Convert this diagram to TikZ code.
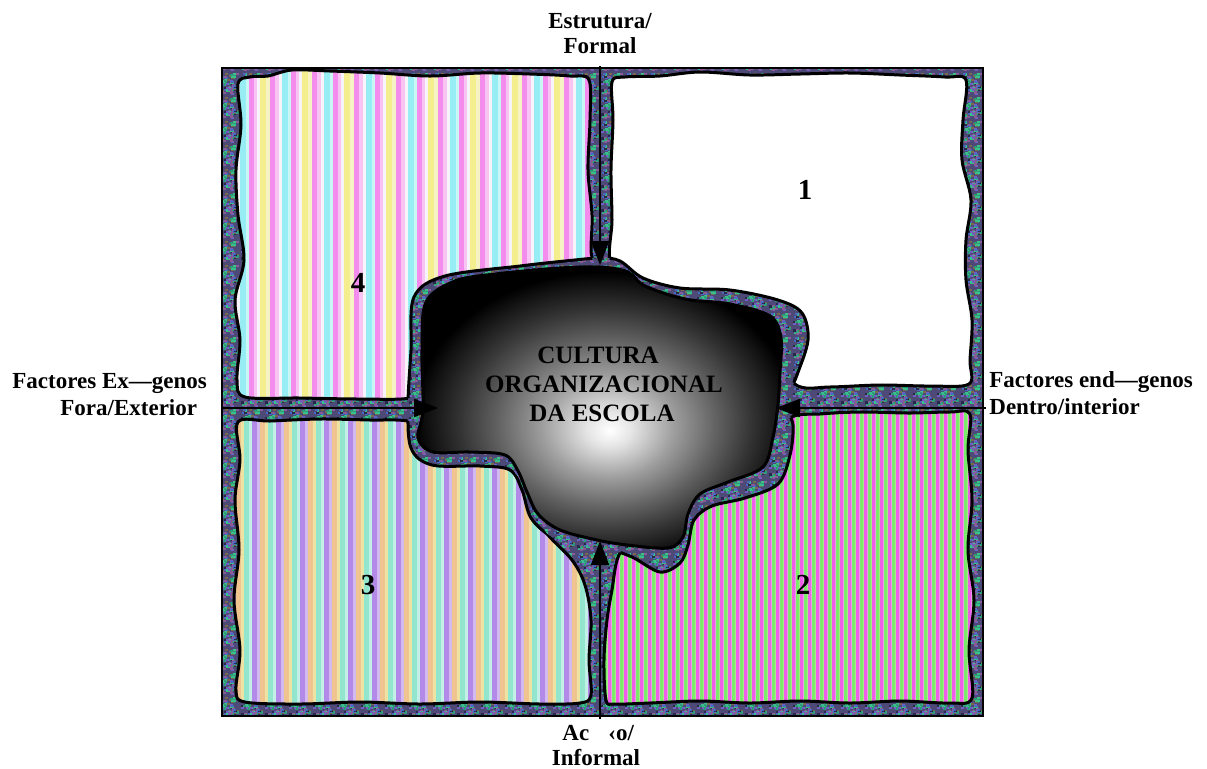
\documentclass[tikz,border=0pt]{standalone}
\usepackage{fontspec}
\setmainfont{Liberation Serif}
\usetikzlibrary{arrows.meta,patterns}

\definecolor{gbase}{HTML}{4E4A78}
\definecolor{gr1}{HTML}{2E9A7A}
\definecolor{gr2}{HTML}{7060C0}
\definecolor{gr3}{HTML}{28284A}
\definecolor{gr4}{HTML}{7A6A4A}
\definecolor{gr5}{HTML}{3CC08A}
\definecolor{gr6}{HTML}{4A6AC0}
\definecolor{gr7}{HTML}{8A5A9A}

\definecolor{sApk}{HTML}{F48CEE}
\definecolor{sApl}{HTML}{F8C4F4}
\definecolor{sAwh}{HTML}{F6F4F8}
\definecolor{sAcy}{HTML}{96EEF4}
\definecolor{sAcl}{HTML}{CAF6F6}
\definecolor{sAye}{HTML}{F4EE8E}
\definecolor{sAyl}{HTML}{F6F2C4}

\definecolor{sCpu}{HTML}{B48AE8}
\definecolor{sClv}{HTML}{D2BAF0}
\definecolor{sCpe}{HTML}{F0C48E}
\definecolor{sCly}{HTML}{ECE2A4}
\definecolor{sCmi}{HTML}{92E6CE}
\definecolor{sClc}{HTML}{C2F0E6}

\definecolor{sBmg}{HTML}{EE5EE8}
\definecolor{sBml}{HTML}{F096EE}
\definecolor{sBgr}{HTML}{7AEE6A}
\definecolor{sBgl}{HTML}{AEE88E}

\pgfdeclarepatterninherentlycolored{granite}{\pgfpoint{-0.4pt}{-0.4pt}}{\pgfpoint{12.4pt}{12.4pt}}{\pgfpoint{12pt}{12pt}}{%
  \pgfsetfillcolor{gbase}%
  \pgfpathrectangle{\pgfpoint{-0.4pt}{-0.4pt}}{\pgfpoint{12.8pt}{12.8pt}}\pgfusepath{fill}%
  \pgfmathsetseed{11}%
  \foreach \i in {1,...,80}{%
    \pgfmathrandominteger{\k}{1}{7}%
    \pgfmathsetmacro{\px}{0.3+rnd*10.2}%
    \pgfmathsetmacro{\py}{0.3+rnd*10.5}%
    \pgfsetfillcolor{gr\k}%
    \pgfpathrectangle{\pgfpoint{\px pt}{\py pt}}{\pgfpoint{1.4pt}{1.1pt}}\pgfusepath{fill}%
  }%
}

\pgfdeclareradialshading{cshade}{\pgfpoint{1.4bp}{-4bp}}{%
  color(0bp)=(white); color(3bp)=(white!90!black); color(9bp)=(white!62!black);
  color(15bp)=(white!38!black); color(20bp)=(white!20!black);
  color(24bp)=(white!7!black); color(26bp)=(black); color(50bp)=(black)}

\newcommand\pfour{plot[smooth cycle,tension=0.55] coordinates {
 (238,84) (250,77) (268,76) (292,70) (330,71) (380,73) (430,76) (480,73) (530,74)
 (570,76) (589,80) (590,120) (588,170) (592,215) (591,250) (592,285) (540,320)
 (470,350) (425,385) (410,398) (360,399) (300,398) (245,397) (237,380) (240,340)
 (235,300) (244,260) (238,215) (236,170) (241,125)}}
\newcommand\pone{plot[smooth cycle,tension=0.55] coordinates {
 (612,82) (625,77) (660,76) (700,72) (750,75) (800,74) (850,73) (900,75) (945,77)
 (966,80) (963,120) (962,160) (971,200) (966,240) (966,280) (972,320) (970,360)
 (969,384) (930,386) (880,385) (830,387) (798,386) (770,360) (700,330) (640,300)
 (611,265) (612,220) (611,170) (613,120)}}
\newcommand\pthree{plot[smooth cycle,tension=0.55] coordinates {
 (238,422) (270,421) (320,419) (370,420) (408,421) (440,432) (490,448) (520,480)
 (535,515) (548,535) (572,560) (585,585) (591,620) (589,660) (591,695) (580,703)
 (540,704) (480,702) (420,704) (360,702) (300,704) (245,702) (236,690) (240,650)
 (234,600) (239,550) (235,500) (240,460)}}
\newcommand\ptwo{plot[smooth cycle,tension=0.55] coordinates {
 (606,700) (604,660) (607,620) (612,590) (619,555) (640,535) (700,500) (760,450)
 (790,418) (820,414) (860,412) (910,413) (950,412) (970,414) (968,450) (972,500)
 (968,550) (974,600) (969,650) (972,698) (950,703) (900,701) (850,703) (800,701)
 (750,703) (700,701) (650,703) (615,704)}}
\newcommand\pband{plot[smooth cycle,tension=0.55] coordinates {
 (600,258) (620,261) (643,278) (680,288) (730,290) (778,300) (802,313) (808,340)
 (797,375) (786,403) (793,425) (790,455) (778,484) (745,498) (712,506) (694,520)
 (688,545) (680,563) (660,572) (632,557) (605,548) (578,545) (552,537) (531,518)
 (522,490) (510,470) (480,466) (432,465) (411,448) (408,405) (411,350) (414,297)
 (445,276) (520,266) (565,261)}}
\newcommand\pdark{plot[smooth cycle,tension=0.55] coordinates {
 (600,267) (628,272) (645,286) (685,299) (730,304) (770,316) (781,338) (780,372)
 (778,405) (773,437) (763,467) (728,482) (700,494) (688,514) (683,537) (668,548)
 (627,545) (597,540) (560,530) (538,514) (527,492) (518,471) (505,455) (470,452)
 (433,452) (418,438) (423,410) (422,350) (426,302) (455,281) (495,274) (560,268)}}

\begin{document}
\begin{tikzpicture}[x=0.5pt,y=-0.5pt,
  edge/.style={line width=1.5pt, line join=round},
  frame/.style={line width=1pt},
  conn/.style={line width=1pt, -{Triangle[length=12pt,width=9pt]}},
  lbl/.style={font=\fontsize{11.5}{12.5}\selectfont\bfseries, inner sep=0pt},
  ctr/.style={font=\fontsize{12.5}{14.5}\selectfont\bfseries, inner sep=0pt},
  num/.style={font=\fontsize{14.5}{16}\selectfont\bfseries, inner sep=0pt}]
\useasboundingbox (0,0) rectangle (1207,768);

% granite background
\fill[pattern=granite] (222,68) rectangle (983,716);

% quadrant 4 (top left)
\begin{scope}
\clip \pfour;
\foreach \p in {0,...,9}{
  \foreach \c/\o/\w in {sApk/0/5, sApl/5/4, sAwh/9/3, sAcy/12/6, sAcl/18/3,
                        sApk/21/5, sApl/26/3, sAwh/29/3, sAye/32/6, sAyl/38/4}{
    \fill[\c] (228+\p*42+\o,60) rectangle (228.6+\p*42+\o+\w,410);}}
\end{scope}
\draw[edge] \pfour;

% quadrant 1 (top right)
\fill[white] \pone;
\draw[edge] \pone;

% quadrant 3 (bottom left)
\begin{scope}
\clip \pthree;
\foreach \p in {0,...,15}{
  \foreach \c/\o/\w in {sCpu/0/5, sClv/5/3, sCpe/8/5, sCly/13/3, sCmi/16/5, sClc/21/3}{
    \fill[\c] (228+\p*24+\o,410) rectangle (228.6+\p*24+\o+\w,710);}}
\end{scope}
\draw[edge] \pthree;

% quadrant 2 (bottom right)
\begin{scope}
\clip \ptwo;
\foreach \p in {0,...,47}{
  \foreach \c/\o/\w in {sBmg/0/3, sBml/3/1, sBgr/4/3, sBgl/7/1}{
    \fill[\c] (600+\p*8+\o,405) rectangle (600.6+\p*8+\o+\w,710);}}
\end{scope}
\draw[edge] \ptwo;

% band around the centre
\fill[pattern=granite] \pband;
\begin{scope}\clip \pfour;  \draw[edge] \pband; \end{scope}
\begin{scope}\clip \pone;   \draw[edge] \pband; \end{scope}
\begin{scope}\clip \pthree; \draw[edge] \pband; \end{scope}
\begin{scope}\clip \ptwo;   \draw[edge] \pband; \end{scope}

% dark centre
\shade[shading=cshade] \pdark;
\draw[edge] \pdark;

% frame
\draw[frame] (222,68) rectangle (983,716);

% connectors
\coordinate (tS) at (600,66);  \coordinate (tT) at (600,265);
\coordinate (bS) at (600,719); \coordinate (bT) at (600,541);
\coordinate (lS) at (222,408); \coordinate (lT) at (438,408);
\coordinate (rS) at (986,408); \coordinate (rT) at (776,408);
\draw[conn] (tS) -- (tT);
\draw[conn] (bS) -- (bT);
\draw[conn] (lS) -- (lT);
\draw[conn] (rS) -- (rT);

% texts
\node[lbl, anchor=base] (tE) at (600,28) {Estrutura/};
\node[lbl, anchor=base] (tF) at (600,53) {Formal};
\node[lbl, anchor=base west] (lA) at (12,388) {Factores Ex—genos};
\node[lbl, anchor=base west] (lB) at (60,415) {Fora/Exterior};
\node[lbl, anchor=base west] (rA) at (989,387) {Factores end—genos};
\node[lbl, anchor=base west] (rB) at (989,414) {Dentro/interior};
\node[lbl, anchor=base west] (bA) at (562,740) {Ac};
\node[lbl, anchor=base west] (bB) at (608,740) {‹o/};
\node[lbl, anchor=base] (bC) at (596,765) {Informal};

\node[ctr, anchor=base] (c1) at (598,363) {CULTURA};
\node[ctr, anchor=base] (c2) at (604,392) {ORGANIZACIONAL};
\node[ctr, anchor=base] (c3) at (602,421) {DA ESCOLA};

\node[num] (n4) at (358,283) {4};
\node[num] (n1) at (805,190) {1};
\node[num] (n3) at (368,585) {3};
\node[num] (n2) at (803,585) {2};
\end{tikzpicture}
\end{document}
